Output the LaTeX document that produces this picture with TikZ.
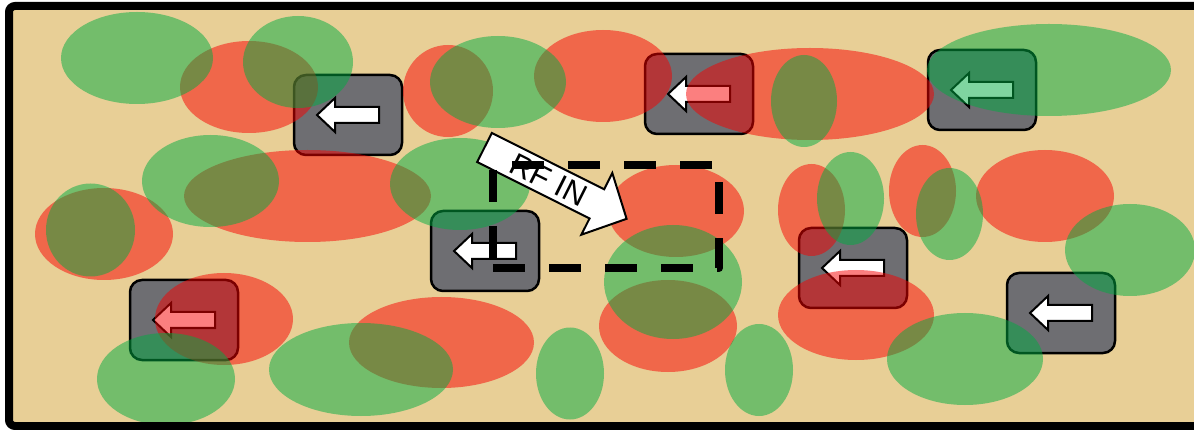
\documentclass[tikz,border=0pt]{standalone}
\usepackage{fontspec}
\newfontfamily\rffont{Liberation Sans}
\definecolor{papyrus}{RGB}{232,207,150}
\definecolor{spotred}{RGB}{248,0,0}
\definecolor{spotgreen}{RGB}{0,172,66}
\definecolor{unitgray}{RGB}{110,110,114}
\begin{document}
\begin{tikzpicture}[x=1pt, y=-1pt,
    redspot/.style={fill=spotred, fill opacity=0.5},
    greenspot/.style={fill=spotgreen, fill opacity=0.5},
    unit/.style={draw, line width=2.5pt, fill=unitgray, rounded corners=12pt,
        minimum width=108pt, minimum height=80pt, inner sep=0pt},
    larr/.pic={\draw[line width=2pt, fill=white]
        (-31,0) -- (-13,-17) -- (-13,-8) -- (31,-8) -- (31,8) -- (-13,8) -- (-13,17) -- cycle;}]
    \useasboundingbox (0,0) rectangle (1194,430);
    \fill[papyrus] (9,6) rectangle (1204,426);
    % units
    \node[unit] (u1) at (348,115) {};
    \node[unit] (u2) at (699,94) {};
    \node[unit] (u3) at (982,90) {};
    \node[unit] (u4) at (485,251) {};
    \node[unit] (u5) at (853,268) {};
    \node[unit] (u6) at (1061,313) {};
    \node[unit] (u7) at (184,320) {};
    \pic at (u1) {larr};
    \pic at (u2) {larr};
    \pic at (u3) {larr};
    \pic at (u4) {larr};
    \pic at (u5) {larr};
    \pic at (u6) {larr};
    \pic at (u7) {larr};
    % red spots
    \fill[redspot] (249,87) ellipse [x radius=69, y radius=46];
    \fill[redspot] (104,234) ellipse [x radius=69, y radius=46];
    \fill[redspot] (307.5,196) ellipse [x radius=123.5, y radius=46];
    \fill[redspot] (448,91) ellipse [x radius=45, y radius=46];
    \fill[redspot] (603,76) ellipse [x radius=69, y radius=46];
    \fill[redspot] (810,94) ellipse [x radius=124, y radius=46];
    \fill[redspot] (676,211) ellipse [x radius=68, y radius=46];
    \fill[redspot] (811.5,210) ellipse [x radius=33.5, y radius=46];
    \fill[redspot] (922.5,191) ellipse [x radius=33.5, y radius=46];
    \fill[redspot] (1045,196) ellipse [x radius=69, y radius=46];
    \fill[redspot] (856,315) ellipse [x radius=78, y radius=45];
    \fill[redspot] (224,319) ellipse [x radius=69, y radius=46];
    \fill[redspot] (441.5,342.5) ellipse [x radius=92.5, y radius=45.5];
    \fill[redspot] (668,326) ellipse [x radius=69, y radius=46];
    % green spots
    \fill[greenspot] (137,58) ellipse [x radius=76, y radius=46];
    \fill[greenspot] (298,62) ellipse [x radius=55, y radius=46];
    \fill[greenspot] (210.5,181) ellipse [x radius=68.5, y radius=46];
    \fill[greenspot] (90.5,230) ellipse [x radius=44.5, y radius=46.5];
    \fill[greenspot] (498,82) ellipse [x radius=68, y radius=46];
    \fill[greenspot] (460,184) ellipse [x radius=70, y radius=46];
    \fill[greenspot] (804,101) ellipse [x radius=33, y radius=46];
    \fill[greenspot] (1049,70) ellipse [x radius=122, y radius=46];
    \fill[greenspot] (850.5,198.5) ellipse [x radius=33.5, y radius=46.5];
    \fill[greenspot] (949.5,214) ellipse [x radius=33.5, y radius=46];
    \fill[greenspot] (1130,250) ellipse [x radius=65, y radius=46];
    \fill[greenspot] (673,282) ellipse [x radius=69, y radius=57];
    \fill[greenspot] (570,373.5) ellipse [x radius=34, y radius=46];
    \fill[greenspot] (759,370) ellipse [x radius=34, y radius=46];
    \fill[greenspot] (965,359) ellipse [x radius=78, y radius=46];
    \fill[greenspot] (361,369.5) ellipse [x radius=92, y radius=46.5];
    \fill[greenspot] (166,379) ellipse [x radius=69, y radius=46];
    % rf input
    \begin{scope}[shift={(484.5,147.5)}, rotate=-26.65]
        \draw[line width=2pt, fill=white] (0,-16.3) -- (125.7,-16.3) -- (125.7,-34.5) -- (159,0)
            -- (125.7,34.5) -- (125.7,16.3) -- (0,16.3) -- cycle;
        \node[rotate=-26.65, inner sep=0pt] (rfin) at (72,0) {\rffont\fontsize{31}{34}\selectfont RF IN};
    \end{scope}
    \draw[line width=8pt, dash pattern=on 32pt off 24pt, line join=round]
        (493,268) -- (719,268) -- (719,165) -- (493,165) -- cycle;
    % frame
    \draw[line width=8pt, rounded corners=6pt] (9,6) rectangle (1204,426);
\end{tikzpicture}
\end{document}
